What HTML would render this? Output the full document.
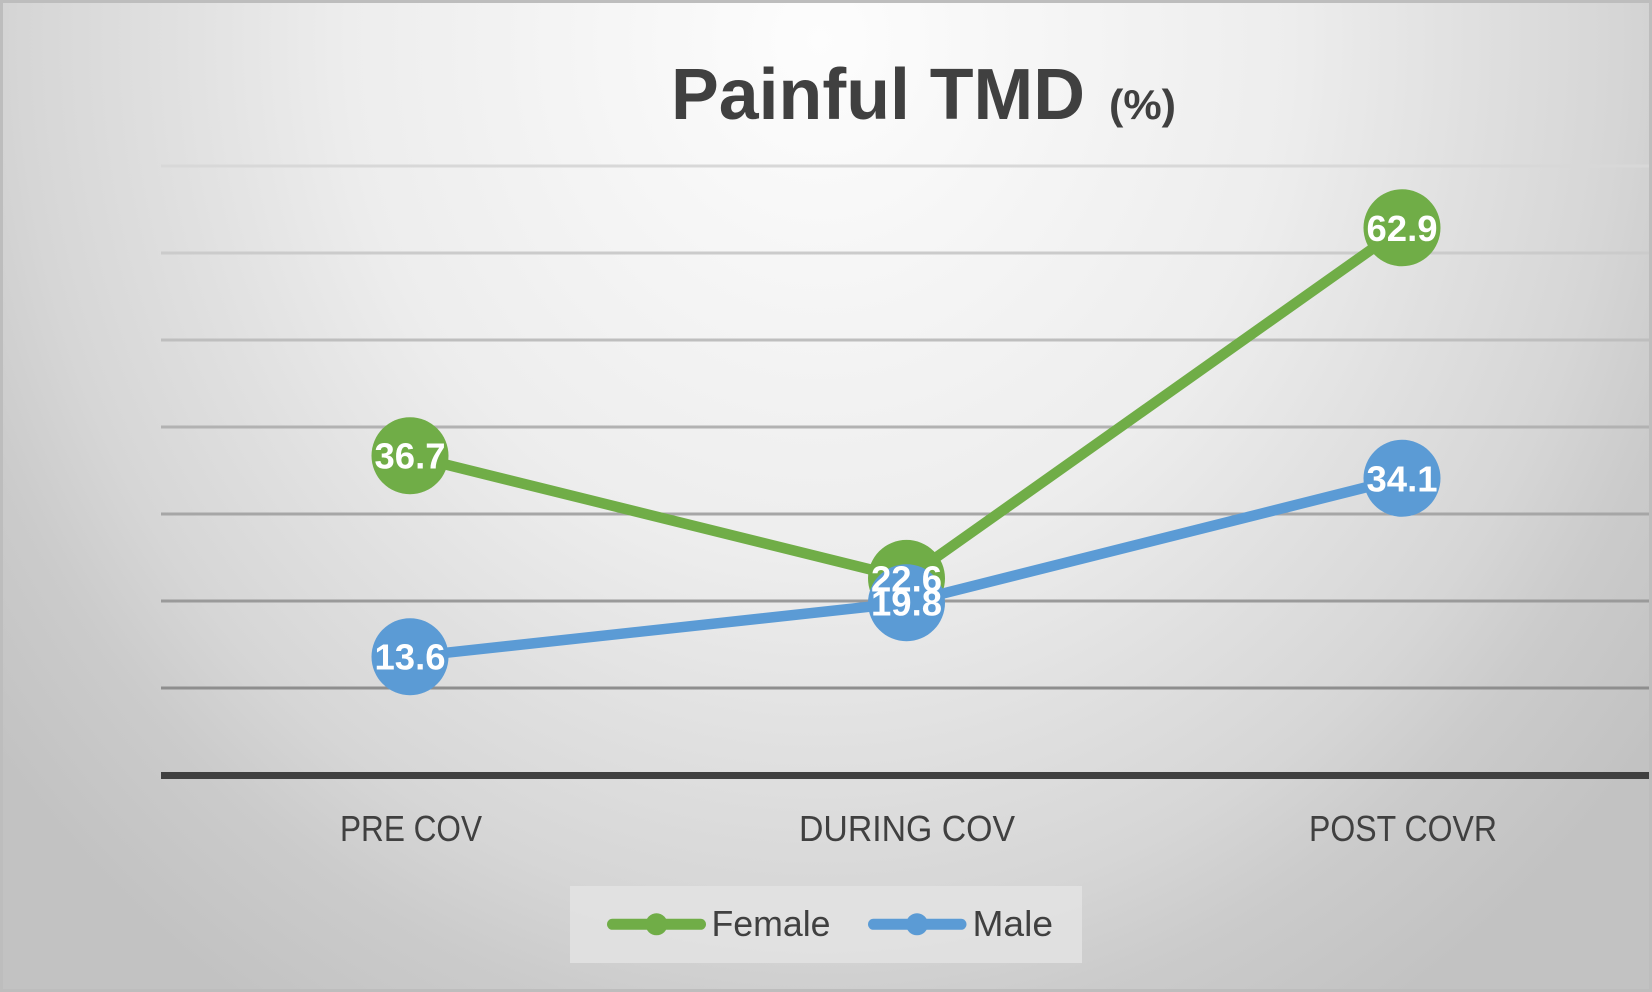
<!DOCTYPE html>
<html>
<head>
<meta charset="utf-8">
<style>
html,body{margin:0;padding:0;width:1652px;height:992px;overflow:hidden;background:#d0d0d0;}
svg{display:block;}
</style>
</head>
<body>
<svg width="1652" height="992" viewBox="0 0 1652 992" xmlns="http://www.w3.org/2000/svg">
  <defs>
    <radialGradient id="bg" gradientUnits="userSpaceOnUse" cx="820" cy="40" r="1050" gradientTransform="translate(820 40) scale(1 1.1) translate(-820 -40)">
      <stop offset="0" stop-color="#fdfdfd"/>
      <stop offset="0.45" stop-color="#ededed"/>
      <stop offset="0.62" stop-color="#e0e0e0"/>
      <stop offset="0.76" stop-color="#d6d6d6"/>
      <stop offset="0.86" stop-color="#cbcbcb"/>
      <stop offset="1" stop-color="#c2c2c2"/>
    </radialGradient>
  </defs>
  <!-- frame -->
  <rect x="0" y="0" width="1652" height="992" fill="#bdbdbd"/>
  <rect x="3" y="3" width="1646" height="986" fill="url(#bg)"/>

  <!-- title -->
  <text x="671" y="119" font-family="'Liberation Sans', sans-serif" font-weight="bold" font-size="72" fill="#404040" textLength="414" lengthAdjust="spacingAndGlyphs">Painful TMD</text>
  <text x="1109" y="119" font-family="'Liberation Sans', sans-serif" font-weight="bold" font-size="42" fill="#404040" textLength="67" lengthAdjust="spacingAndGlyphs">(%)</text>

  <!-- gridlines -->
  <g stroke-width="3">
    <line x1="161" y1="166" x2="1649" y2="166" stroke="#d8d8d8"/>
    <line x1="161" y1="253" x2="1649" y2="253" stroke="#cbcbcb"/>
    <line x1="161" y1="340" x2="1649" y2="340" stroke="#bebebe"/>
    <line x1="161" y1="427" x2="1649" y2="427" stroke="#b2b2b2"/>
    <line x1="161" y1="514" x2="1649" y2="514" stroke="#a6a6a6"/>
    <line x1="161" y1="601" x2="1649" y2="601" stroke="#9a9a9a"/>
    <line x1="161" y1="688" x2="1649" y2="688" stroke="#8e8e8e"/>
  </g>
  <!-- axis -->
  <rect x="161" y="772" width="1488" height="7" fill="#404040"/>

  <!-- Female series -->
  <polyline points="410,455.7 906.5,578.4 1402,227.8" fill="none" stroke="#70AD47" stroke-width="10.5" stroke-linejoin="round"/>
  <circle cx="410" cy="455.7" r="38.5" fill="#70AD47"/>
  <circle cx="906.5" cy="578.4" r="38.5" fill="#70AD47"/>
  <circle cx="1402" cy="227.8" r="38.5" fill="#70AD47"/>

  <!-- Male series -->
  <polyline points="410,656.7 906.5,602.7 1402,478.3" fill="none" stroke="#5B9BD5" stroke-width="10.5" stroke-linejoin="round"/>
  <circle cx="410" cy="656.7" r="38.5" fill="#5B9BD5"/>
  <circle cx="906.5" cy="602.7" r="38.5" fill="#5B9BD5"/>
  <circle cx="1402" cy="478.3" r="38.5" fill="#5B9BD5"/>

  <!-- data labels -->
  <g font-family="'Liberation Sans', sans-serif" font-weight="bold" font-size="36" fill="#ffffff" text-anchor="middle">
    <text x="410" y="468.7" textLength="71" lengthAdjust="spacingAndGlyphs">36.7</text>
    <text x="906.5" y="591.4" textLength="71" lengthAdjust="spacingAndGlyphs">22.6</text>
    <text x="1402" y="240.8" textLength="71" lengthAdjust="spacingAndGlyphs">62.9</text>
    <text x="410" y="669.7" textLength="71" lengthAdjust="spacingAndGlyphs">13.6</text>
    <text x="906.5" y="615.7" textLength="71" lengthAdjust="spacingAndGlyphs">19.8</text>
    <text x="1402" y="491.3" textLength="71" lengthAdjust="spacingAndGlyphs">34.1</text>
  </g>

  <!-- category labels -->
  <g font-family="'Liberation Sans', sans-serif" font-size="36" fill="#404040">
    <text x="340" y="841" textLength="142" lengthAdjust="spacingAndGlyphs">PRE COV</text>
    <text x="799" y="841" textLength="216" lengthAdjust="spacingAndGlyphs">DURING COV</text>
    <text x="1309" y="841" textLength="188" lengthAdjust="spacingAndGlyphs">POST COVR</text>
  </g>

  <!-- legend -->
  <rect x="570" y="886" width="512" height="77" fill="#e3e3e3" fill-opacity="0.85"/>
  <line x1="612.5" y1="924.3" x2="700.5" y2="924.3" stroke="#70AD47" stroke-width="11" stroke-linecap="round"/>
  <circle cx="656.5" cy="924.3" r="11" fill="#70AD47"/>
  <line x1="873.5" y1="924.3" x2="961" y2="924.3" stroke="#5B9BD5" stroke-width="11" stroke-linecap="round"/>
  <circle cx="917" cy="924.3" r="11" fill="#5B9BD5"/>
  <g font-family="'Liberation Sans', sans-serif" font-size="36" fill="#404040">
    <text x="711.5" y="936" textLength="119" lengthAdjust="spacingAndGlyphs">Female</text>
    <text x="972.5" y="936" textLength="80.5" lengthAdjust="spacingAndGlyphs">Male</text>
  </g>
</svg>
</body>
</html>
